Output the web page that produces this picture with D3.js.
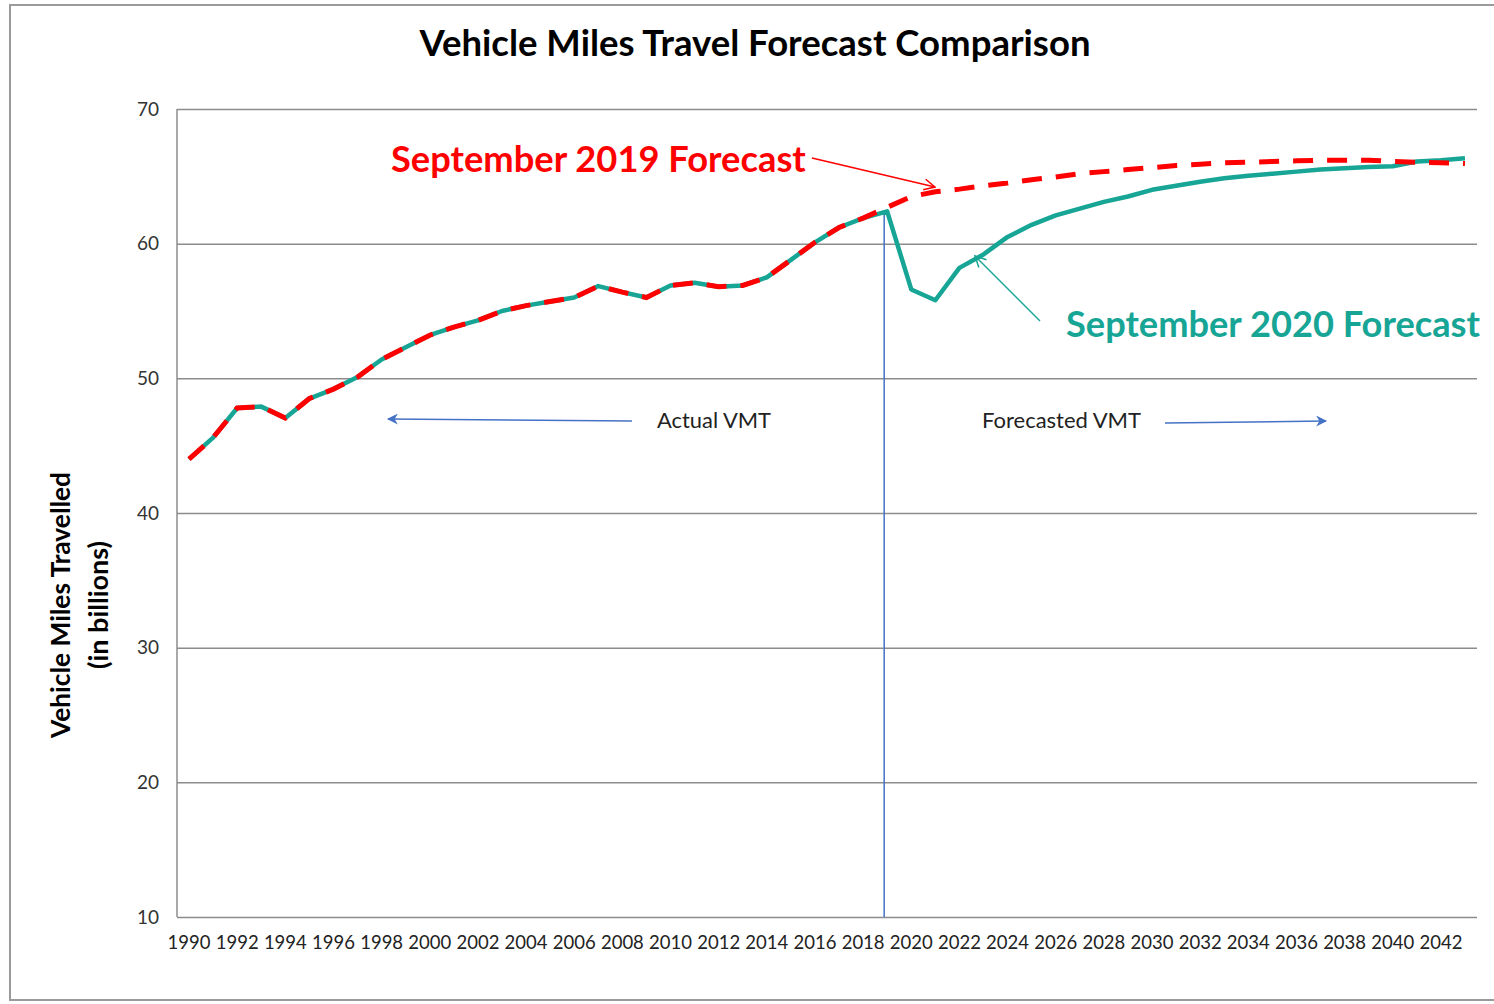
<!DOCTYPE html>
<html>
<head>
<meta charset="utf-8">
<script src="https://cdn.jsdelivr.net/npm/d3@7"></script>
<style>
  body { margin: 0; background: #fff; }
  svg { display: block; font-family: Lato, "Open Sans", sans-serif; }
</style>
</head>
<body>
<div id="chart"></div>
<script>
const WIDTH = 1494;
const HEIGHT = 1004;

const OFFSET_LEFT = 177;
const OFFSET_RIGHT = 1477;
const OFFSET_TOP = 109;
const OFFSET_BOTTOM = 917;

// data
const years = d3.range(1990, 2044);
const yTicks = [10, 20, 30, 40, 50, 60, 70];
// 1990 - 2018
const actualVMT = [44.0, 45.6, 47.8, 47.9, 47.05, 48.5, 49.2, 50.1, 51.4, 52.3,
  53.2, 53.8, 54.3, 55.0, 55.4, 55.7, 56.0, 56.85, 56.4, 56.0,
  56.9, 57.1, 56.8, 56.9, 57.5, 58.8, 60.1, 61.2, 61.9];
// 2019 - 2043
const forecast2020 = [62.4, 56.6, 55.8, 58.2, 59.2, 60.5, 61.4, 62.1, 62.6, 63.1,
  63.5, 64.0, 64.3, 64.6, 64.85, 65.05, 65.2, 65.35, 65.5, 65.6,
  65.7, 65.75, 66.1, 66.2, 66.35];
const forecast2019 = [62.7, 63.5, 63.85, 64.05, 64.3, 64.5, 64.75, 64.95, 65.2, 65.35,
  65.5, 65.65, 65.8, 65.9, 66.0, 66.05, 66.1, 66.15, 66.2, 66.2,
  66.2, 66.1, 66.05, 66.0, 65.95];

const RED = "#ff0000";
const TEAL = "#17a596";
const BLUE = "#4472c4";
const GRID = "#8c8c8c";

let svg = d3.select("#chart").append("svg")
  .attr("width", WIDTH)
  .attr("height", HEIGHT);

let xScale = d3.scaleBand()
  .domain(years)
  .range([OFFSET_LEFT, OFFSET_RIGHT])
  .padding(0);
let xPos = yr => xScale(yr) + xScale.bandwidth() / 2;

let yScale = d3.scaleLinear()
  .domain([10, 70])
  .range([OFFSET_BOTTOM, OFFSET_TOP]);

// outer frame of the chart object
svg.append("path")
  .attr("d", "M" + WIDTH + ",5 H10 V1000 H" + WIDTH)
  .attr("fill", "none")
  .attr("stroke", "#9a9a9a")
  .attr("stroke-width", 2);

// shrink or grow a text to the width seen in the picture
function fitText(sel, target) {
  let node = sel.node();
  let size = parseFloat(sel.style("font-size"));
  let len = node.getComputedTextLength();
  sel.style("font-size", (size * target / len).toFixed(2) + "px");
}

// title
svg.append("text")
  .attr("x", 755).attr("y", 56)
  .attr("text-anchor", "middle")
  .style("font-size", "31px").style("font-weight", "bold")
  .attr("fill", "#000")
  .text("Vehicle Miles Travel Forecast Comparison")
  .call(fitText, 671);

// gridlines
let yGrid = d3.axisLeft(yScale)
  .tickValues(yTicks)
  .tickSize(-(OFFSET_RIGHT - OFFSET_LEFT))
  .tickFormat("");
svg.append("g")
  .attr("transform", "translate(" + OFFSET_LEFT + ",0)")
  .call(yGrid)
  .call(g => g.select(".domain").remove())
  .call(g => g.selectAll("line").attr("stroke", GRID).attr("stroke-width", 1.5));

// left border of the plot area
svg.append("line")
  .attr("x1", OFFSET_LEFT).attr("x2", OFFSET_LEFT)
  .attr("y1", OFFSET_TOP).attr("y2", OFFSET_BOTTOM)
  .attr("stroke", GRID).attr("stroke-width", 1.5);

// y labels
let yAxis = d3.axisLeft(yScale).tickValues(yTicks).tickSize(0).tickPadding(18);
svg.append("g")
  .attr("transform", "translate(" + OFFSET_LEFT + ",0)")
  .call(yAxis)
  .call(g => g.select(".domain").remove())
  .call(g => g.selectAll("text")
    .style("font-family", "Lato, sans-serif")
    .style("font-size", "19px").attr("fill", "#333"));

// x labels every second year
let xAxis = d3.axisBottom(xScale)
  .tickValues(years.filter(y => y % 2 === 0 && y <= 2042))
  .tickSize(0).tickPadding(19);
svg.append("g")
  .attr("transform", "translate(0," + OFFSET_BOTTOM + ")")
  .call(xAxis)
  .call(g => g.select(".domain").remove())
  .call(g => g.selectAll("text")
    .style("font-family", "Lato, sans-serif")
    .style("font-size", "18.5px").attr("fill", "#222"));

// y axis title
let yTitle = svg.append("g")
  .attr("transform", "translate(62,605) rotate(-90)");
yTitle.append("text")
  .attr("x", 0).attr("y", 8)
  .attr("text-anchor", "middle")
  .style("font-size", "24px").style("font-weight", "bold")
  .text("Vehicle Miles Travelled")
  .call(fitText, 266);
yTitle.append("text")
  .attr("x", 0).attr("y", 46)
  .attr("text-anchor", "middle")
  .style("font-size", "24px").style("font-weight", "bold")
  .text("(in billions)")
  .call(fitText, 128);

// divider between actual and forecast
let lastActual = 2019;
svg.append("line")
  .attr("x1", xPos(lastActual) - 3).attr("x2", xPos(lastActual) - 3)
  .attr("y1", yScale(forecast2020[0])).attr("y2", OFFSET_BOTTOM)
  .attr("stroke", BLUE).attr("stroke-width", 1.5);

// series
let green = actualVMT.concat(forecast2020).map((v, i) => ({ year: years[i], value: v }));
let red = actualVMT.concat(forecast2019).map((v, i) => ({ year: years[i], value: v }));

let line = d3.line()
  .x(d => xPos(d.year))
  .y(d => yScale(d.value));

svg.append("path")
  .datum(green)
  .attr("fill", "none")
  .attr("stroke", TEAL)
  .attr("stroke-width", 4.5)
  .attr("stroke-linejoin", "round")
  .attr("d", line);

svg.append("path")
  .datum(red)
  .attr("fill", "none")
  .attr("stroke", RED)
  .attr("stroke-width", 5)
  .attr("stroke-dasharray", "20,14")
  .attr("d", line);

// arrow markers
let defs = svg.append("defs");
function openHead(id, color) {
  defs.append("marker")
    .attr("id", id)
    .attr("viewBox", "0 0 12 12")
    .attr("refX", 11).attr("refY", 6)
    .attr("markerWidth", 13).attr("markerHeight", 13)
    .attr("markerUnits", "userSpaceOnUse")
    .attr("orient", "auto")
    .append("path")
    .attr("d", "M1,1 L11,6 L1,11")
    .attr("fill", "none")
    .attr("stroke", color)
    .attr("stroke-width", 1.4);
}
openHead("head-red", RED);
openHead("head-teal", TEAL);
defs.append("marker")
  .attr("id", "head-blue")
  .attr("viewBox", "0 0 10 10")
  .attr("refX", 9).attr("refY", 5)
  .attr("markerWidth", 14).attr("markerHeight", 11)
  .attr("markerUnits", "userSpaceOnUse")
  .attr("orient", "auto")
  .append("path")
  .attr("d", "M0,0 L10,5 L0,10 L3,5 Z")
  .attr("fill", BLUE);

// annotations
svg.append("text")
  .attr("x", 391).attr("y", 172)
  .style("font-size", "32px").style("font-weight", "bold")
  .attr("fill", RED)
  .text("September 2019 Forecast")
  .call(fitText, 415);
svg.append("line")
  .attr("x1", 812).attr("y1", 158)
  .attr("x2", 935).attr("y2", 187)
  .attr("stroke", RED).attr("stroke-width", 1.5)
  .attr("marker-end", "url(#head-red)");

svg.append("text")
  .attr("x", 1066).attr("y", 337)
  .style("font-size", "32px").style("font-weight", "bold")
  .attr("fill", TEAL)
  .text("September 2020 Forecast")
  .call(fitText, 414);
svg.append("line")
  .attr("x1", 1040).attr("y1", 321)
  .attr("x2", 975).attr("y2", 256)
  .attr("stroke", TEAL).attr("stroke-width", 1.5)
  .attr("marker-end", "url(#head-teal)");

svg.append("text")
  .attr("x", 657).attr("y", 428)
  .style("font-size", "21px")
  .attr("fill", "#222")
  .text("Actual VMT")
  .call(fitText, 114);
svg.append("line")
  .attr("x1", 632).attr("y1", 421)
  .attr("x2", 388).attr("y2", 419)
  .attr("stroke", BLUE).attr("stroke-width", 1.5)
  .attr("marker-end", "url(#head-blue)");

svg.append("text")
  .attr("x", 982).attr("y", 428)
  .style("font-size", "21px")
  .attr("fill", "#222")
  .text("Forecasted VMT")
  .call(fitText, 159);
svg.append("line")
  .attr("x1", 1165).attr("y1", 423)
  .attr("x2", 1326).attr("y2", 421)
  .attr("stroke", BLUE).attr("stroke-width", 1.5)
  .attr("marker-end", "url(#head-blue)");
</script>
</body>
</html>
